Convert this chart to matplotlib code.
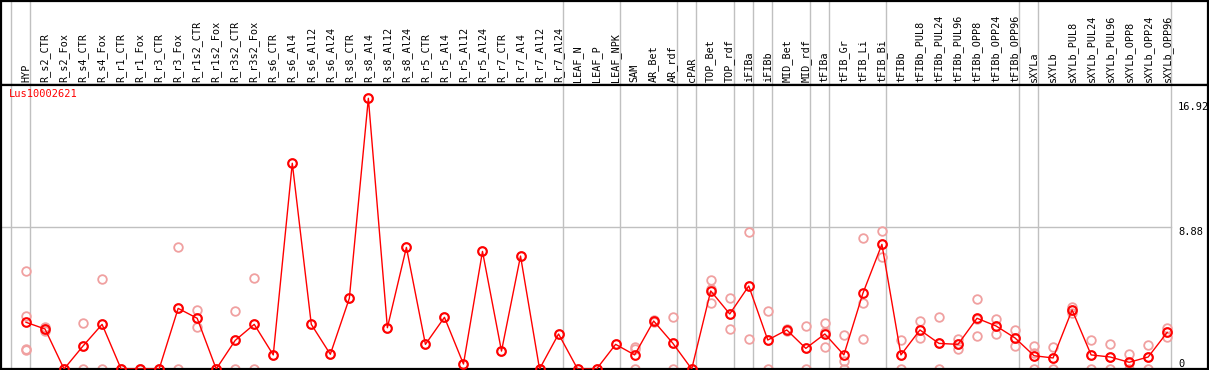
"""Expression profile of Lus10002621 across tissues."""

import matplotlib
matplotlib.use('Agg')
import matplotlib.pyplot as plt
import matplotlib.transforms as mtransforms
import numpy as np

gene = 'Lus10002621'

samples = ['HYP',
           'R_s2_CTR', 'R_s2_Fox', 'R_s4_CTR', 'R_s4_Fox', 'R_r1_CTR', 'R_r1_Fox',
           'R_r3_CTR', 'R_r3_Fox', 'R_r1s2_CTR', 'R_r1s2_Fox', 'R_r3s2_CTR', 'R_r3s2_Fox',
           'R_s6_CTR', 'R_s6_Al4', 'R_s6_Al12', 'R_s6_Al24',
           'R_s8_CTR', 'R_s8_Al4', 'R_s8_Al12', 'R_s8_Al24',
           'R_r5_CTR', 'R_r5_Al4', 'R_r5_Al12', 'R_r5_Al24',
           'R_r7_CTR', 'R_r7_Al4', 'R_r7_Al12', 'R_r7_Al24',
           'LEAF_N', 'LEAF_P', 'LEAF_NPK',
           'SAM', 'AR_Bet', 'AR_rdf',
           'cPAR',
           'TOP_Bet', 'TOP_rdf',
           'iFIBa',
           'iFIBb',
           'MID_Bet', 'MID_rdf',
           'tFIBa',
           'tFIB_Gr', 'tFIB_Li', 'tFIB_Bi',
           'tFIBb', 'tFIBb_PUL8', 'tFIBb_PUL24', 'tFIBb_PUL96',
           'tFIBb_OPP8', 'tFIBb_OPP24', 'tFIBb_OPP96',
           'sXYLa',
           'sXYLb', 'sXYLb_PUL8', 'sXYLb_PUL24', 'sXYLb_PUL96',
           'sXYLb_OPP8', 'sXYLb_OPP24', 'sXYLb_OPP96']

# number of samples in each block between the grey separators
group_sizes = [1, 28, 3, 3, 1, 2, 1, 1, 2, 1, 3, 7, 1, 7]

means = [2.92,
         2.50, 0.00, 1.44, 2.79, 0.00, 0.00, 0.00, 3.79, 3.17, 0.00, 1.79, 2.79,
         0.88, 12.86, 2.79, 0.92, 4.42, 16.92, 2.58, 7.60,
         1.54, 3.23, 0.31, 7.35, 1.12, 7.06, 0.00, 2.19,
         0.00, 0.00, 1.54,
         0.88, 3.00, 1.62,
         0.00,
         4.88, 3.44,
         5.19,
         1.81,
         2.44, 1.29,
         2.19,
         0.88, 4.73, 7.79,
         0.88, 2.44, 1.60, 1.54, 3.17, 2.69, 1.94,
         0.83,
         0.69, 3.69, 0.88, 0.75, 0.42, 0.75, 2.29]

# replicate values (None = same as the mean, single replicate)
replicates = [[6.12, 3.29, 1.25, 1.18],
              [2.60, 2.40, 2.50], [0, 0, 0], [2.86, 1.44, 0], [5.60, 2.79, 0],
              [0, 0, 0], [0, 0, 0], [0, 0, 0], [7.60, 3.79, 0],
              [3.67, 3.17, 2.65], [0, 0, 0], [3.62, 1.79, 0], [5.67, 2.79, 0],
              None, None, None, None, None, None, None, None,
              None, None, None, None, None, None, None, None,
              None, None, None,
              [1.40, 1.23, 0], [3.05, 2.95, 3.00], [3.23, 1.62, 0],
              [0, 0, 0],
              [5.54, 5.00, 4.10], [4.42, 3.44, 2.48],
              [8.54, 5.19, 1.85],
              [3.62, 1.81, 0],
              [2.50, 2.38, 2.44], [2.69, 1.29, 0],
              [2.88, 2.29, 1.40],
              [2.12, 0.48, 0], [8.17, 4.10, 1.85], [8.60, 7.79, 7.00],
              [1.81, 0.85, 0], [3.00, 2.44, 1.92], [3.23, 1.60, 0], [1.85, 1.54, 1.25],
              [4.38, 3.10, 2.06], [3.12, 2.69, 2.17], [2.44, 1.94, 1.44],
              [1.44, 1.00, 0],
              [1.37, 0.70, 0], [3.90, 3.69, 3.48], [1.81, 0.85, 0], [1.54, 0.75, 0],
              [0.94, 0.35, 0], [1.48, 0.75, 0], [2.54, 2.29, 2.02]]

y_ticks = [16.92, 8.88, 0]

RED = '#ff0000'
PINK = '#f0a0a0'
GREY = '#c0c0c0'
FONT = 'DejaVu Sans Mono'

W, H = 1209, 370
x = np.arange(len(samples))
step = 19.02  # pixels per sample
x0 = 26       # pixel of first sample
xlim = ((1 - x0) / step, (W - 1 - x0) / step)
ymax = (369 - 85) / 16.0

fig = plt.figure(figsize=(W / 100, H / 100), dpi=100)
ax_h = fig.add_axes([1 / W, (H - 85) / H, (W - 2) / W, 84 / H])
ax = fig.add_axes([1 / W, 1 / H, (W - 2) / W, (H - 86) / H])

for a in (ax, ax_h):
  a.set_xlim(*xlim)
  a.set_xticks([])
  a.set_yticks([])
  for s in a.spines.values():
    s.set_color('black')
    s.set_linewidth(1.6)
ax.set_ylim(0, ymax)
ax_h.set_ylim(0, 1)

# group separators
ends = np.concatenate([[-1], np.cumsum(group_sizes) - 1])
for e in ends:
  for a in (ax, ax_h):
    a.axvline(e + 0.21, color=GREY, lw=1, zorder=0)
ax.plot([xlim[0], ends[-1] + 0.21], [y_ticks[1]] * 2, color=GREY, lw=1, zorder=0)

# column labels
trans = mtransforms.blended_transform_factory(ax_h.transData, ax_h.transAxes)
for xi, lab in zip(x, samples):
  ax_h.text(xi, 0.03, lab, rotation=90, ha='center', va='bottom',
            fontsize=7.3, family=FONT, transform=trans)

# replicate points
for xi, m, reps in zip(x, means, replicates):
  vals = [m] if reps is None else reps
  ax.plot([xi] * len(vals), vals, 'o', ms=6.2, mfc='none', mec=PINK, mew=1.3, zorder=2)

ax.plot(x, means, '-', color=RED, lw=1, zorder=3)
ax.plot(x, means, 'o', ms=6.2, mfc='none', mec=RED, mew=1.5, zorder=4)

ax.text(8 / (W - 2), 0.985, gene, color=RED, fontsize=7.5, family=FONT,
        ha='left', va='top', transform=ax.transAxes)

tx = (1178 - x0) / step
for v in y_ticks:
  off = -0.25 if v == y_ticks[0] else 0
  ax.text(tx, v + off, '%g' % v if v else '0', fontsize=7.5, family=FONT,
          ha='left', va='bottom' if v == 0 else 'top')

fig.savefig('out.png', dpi=100)
